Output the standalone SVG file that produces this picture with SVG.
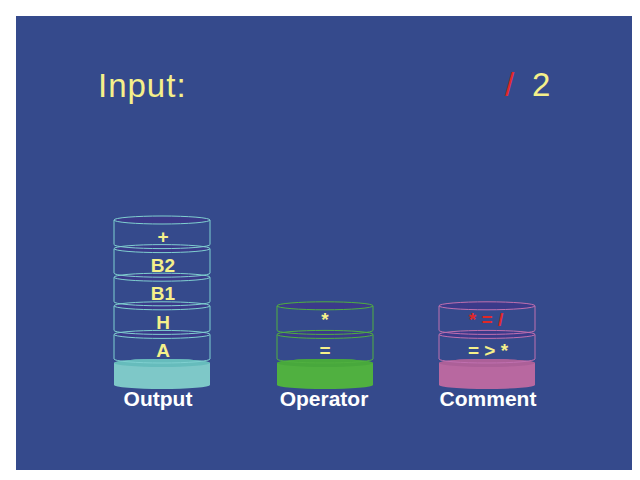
<svg xmlns="http://www.w3.org/2000/svg" width="640" height="480" viewBox="0 0 640 480">
<defs>
<style>
.bg{fill:#354a8c}
.title{font-family:"Liberation Sans",Arial,sans-serif;font-size:33px;fill:#f5f08a}
.dt{font-family:"Liberation Sans",Arial,sans-serif;font-size:19px;font-weight:bold;fill:#f5f08a;text-anchor:middle}
.lbl{font-family:"Liberation Sans",Arial,sans-serif;font-size:21px;font-weight:bold;fill:#ffffff;text-anchor:middle}
.red{fill:#e02828}
.top{fill:#3b3a8a}
.edge{fill:none;stroke-width:1}
.cyan{stroke:#7fd0d0}
.green{stroke:#50b040}
.pink{stroke:#c070b0}
</style>
</defs>
<rect x="0" y="0" width="640" height="480" fill="#ffffff"/>
<rect class="bg" x="16" y="16" width="616" height="454"/>
<g id="input">
<text class="title" x="98" y="97" letter-spacing="1">Input:</text>
<text class="title red" x="505" y="96">/</text>
<text class="title" x="532" y="96">2</text>
</g>
<g id="connectors"></g>
<g id="output">
<path d="M114,363 A48,4 0 0 1 210,363 L210,385 A48,4 0 0 1 114,385 Z" fill="#7ec8c8"/>
<ellipse cx="162" cy="363" rx="48" ry="4" fill="#66bcbc"/>
<g class="edge cyan">
<ellipse class="top" cx="162" cy="334.4" rx="48" ry="4"/>
<path d="M114,334.4 V359 A48,4 0 0 0 210,359 V334.4"/>
<ellipse class="top" cx="162" cy="305.8" rx="48" ry="4"/>
<path d="M114,305.8 V330.4 A48,4 0 0 0 210,330.4 V305.8"/>
<ellipse class="top" cx="162" cy="277.2" rx="48" ry="4"/>
<path d="M114,277.2 V301.8 A48,4 0 0 0 210,301.8 V277.2"/>
<ellipse class="top" cx="162" cy="248.6" rx="48" ry="4"/>
<path d="M114,248.6 V273.2 A48,4 0 0 0 210,273.2 V248.6"/>
<ellipse class="top" cx="162" cy="220" rx="48" ry="4"/>
<path d="M114,220 V244.6 A48,4 0 0 0 210,244.6 V220"/>
</g>
<text class="dt" x="163" y="243">+</text>
<text class="dt" x="163" y="271.5">B2</text>
<text class="dt" x="163" y="300">B1</text>
<text class="dt" x="163" y="328.5">H</text>
<text class="dt" x="163" y="357">A</text>
<text class="lbl" x="158" y="406">Output</text>
</g>
<g id="operator">
<path d="M277,363 A48,4 0 0 1 373,363 L373,385 A48,4 0 0 1 277,385 Z" fill="#50b040"/>
<ellipse cx="325" cy="363" rx="48" ry="4" fill="#48a83c"/>
<g class="edge green">
<ellipse class="top" cx="325" cy="334.4" rx="48" ry="4"/>
<path d="M277,334.4 V359 A48,4 0 0 0 373,359 V334.4"/>
<ellipse class="top" cx="325" cy="305.8" rx="48" ry="4"/>
<path d="M277,305.8 V330.4 A48,4 0 0 0 373,330.4 V305.8"/>
</g>
<text class="dt" x="325" y="326">*</text>
<text class="dt" x="325" y="357">=</text>
<text class="lbl" x="324" y="406">Operator</text>
</g>
<g id="comment">
<path d="M439,363 A48,4 0 0 1 535,363 L535,385 A48,4 0 0 1 439,385 Z" fill="#b868a0"/>
<ellipse cx="487" cy="363" rx="48" ry="4" fill="#ac6098"/>
<g class="edge pink">
<ellipse class="top" cx="487" cy="334.4" rx="48" ry="4"/>
<path d="M439,334.4 V359 A48,4 0 0 0 535,359 V334.4"/>
<ellipse class="top" cx="487" cy="305.8" rx="48" ry="4"/>
<path d="M439,305.8 V330.4 A48,4 0 0 0 535,330.4 V305.8"/>
</g>
<text class="dt red" x="486" y="326">* = /</text>
<text class="dt" x="488" y="357">= &gt; *</text>
<text class="lbl" x="488" y="406">Comment</text>
</g>
</svg>
